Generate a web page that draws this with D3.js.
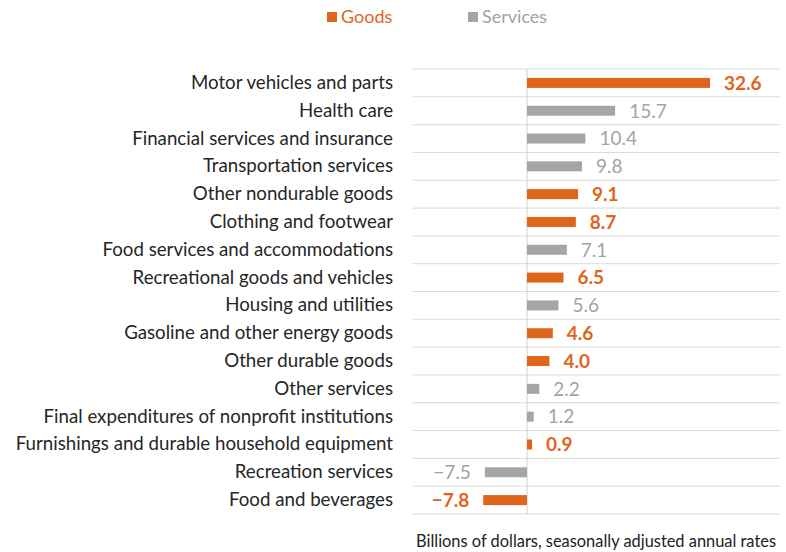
<!DOCTYPE html>
<html><head><meta charset="utf-8">
<script src="https://cdn.jsdelivr.net/npm/d3@7"></script>
<style>body{margin:0;background:#fff}svg{display:block}</style>
</head><body>
<script>
const categories = [
  "Motor vehicles and parts","Health care","Financial services and insurance",
  "Transportation services","Other nondurable goods","Clothing and footwear",
  "Food services and accommodations","Recreational goods and vehicles",
  "Housing and utilities","Gasoline and other energy goods","Other durable goods",
  "Other services","Final expenditures of nonprofit institutions",
  "Furnishings and durable household equipment","Recreation services","Food and beverages"
];
const values = [32.6,15.7,10.4,9.8,9.1,8.7,7.1,6.5,5.6,4.6,4.0,2.2,1.2,0.9,-7.5,-7.8];
const types = ["Goods","Services","Services","Services","Goods","Goods","Services","Goods",
  "Services","Goods","Goods","Services","Services","Goods","Services","Goods"];
const seriesNames = ["Goods","Services"];

const W = 786, H = 552;
const barColor = {Goods:"#E0651C", Services:"#A5A5A5"};
const textColor = {Goods:"#E0651C", Services:"#A3A3A3"};
const font = "Lato, 'Open Sans', sans-serif";

const svg = d3.select("body").append("svg").attr("width",W).attr("height",H);

const x = d3.scaleLinear().domain([0,32.6]).range([527,710]);
const y = d3.scaleBand().domain(categories).range([69,514]).paddingInner(0).paddingOuter(0);
const barH = 10;

// gridlines between rows
const bounds = categories.map(c=>y(c)).concat([y.range()[1]]);
svg.append("g").selectAll("line").data(bounds).join("line")
  .attr("x1",413).attr("x2",780).attr("y1",d=>d).attr("y2",d=>d)
  .attr("stroke","#D9D9D9").attr("stroke-width",1);

// zero line
svg.append("line").attr("x1",x(0)).attr("x2",x(0)).attr("y1",69).attr("y2",514)
  .attr("stroke","#D0D0D0").attr("stroke-width",1);

// bars
svg.append("g").selectAll("rect").data(categories).join("rect")
  .attr("x",(d,i)=>x(Math.min(0,values[i])))
  .attr("width",(d,i)=>Math.abs(x(values[i])-x(0)))
  .attr("y",d=>y(d)+y.bandwidth()/2-barH/2)
  .attr("height",barH)
  .attr("fill",(d,i)=>barColor[types[i]]);

// value labels
svg.append("g").selectAll("text").data(categories).join("text")
  .attr("x",(d,i)=>values[i]>=0 ? x(values[i])+14 : x(values[i])-14)
  .attr("y",d=>y(d)+y.bandwidth()/2)
  .attr("dy","0.36em")
  .attr("text-anchor",(d,i)=>values[i]>=0?"start":"end")
  .attr("font-family",font).attr("font-size",19)
  .attr("font-weight",(d,i)=>types[i]==="Goods"?"bold":"normal")
  .attr("fill",(d,i)=>textColor[types[i]])
  .text((d,i)=>values[i]<0 ? "\u2212"+Math.abs(values[i]).toFixed(1) : values[i].toFixed(1));

// category axis labels
const yAxis = d3.axisLeft(y).tickSize(0).tickPadding(0);
const ga = svg.append("g").attr("transform","translate(393,0)").call(yAxis);
ga.select(".domain").remove();
ga.selectAll("text").attr("font-family",font).attr("font-size",18.7).attr("fill","#262626");

// legend
const legX = [327,468];
const lg = svg.append("g").selectAll("g").data(seriesNames).join("g")
  .attr("transform",(d,i)=>`translate(${legX[i]},17)`);
lg.append("rect").attr("x",0).attr("y",-5).attr("width",10).attr("height",10)
  .attr("fill",d=>barColor[d]);
lg.append("text").attr("x",14).attr("dy","0.36em")
  .attr("font-family",font).attr("font-size",18)
  .attr("fill",d=>textColor[d]).text(d=>d);

// unit note
svg.append("text").attr("x",776).attr("y",541).attr("dy","0.36em")
  .attr("text-anchor","end").attr("font-family",font).attr("font-size",16.4)
  .attr("fill","#222").text("Billions of dollars, seasonally adjusted annual rates");
</script>
</body></html>
